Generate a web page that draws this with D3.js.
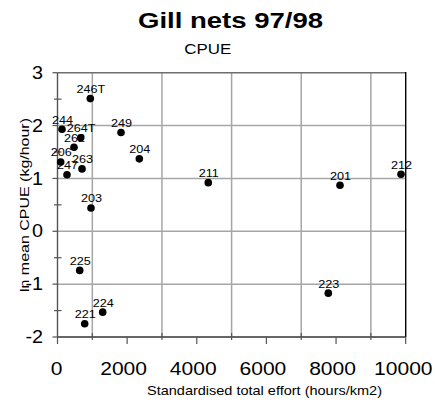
<!DOCTYPE html>
<html><head><meta charset="utf-8">
<script src="https://cdn.jsdelivr.net/npm/d3@7"></script>
<style>
html,body{margin:0;padding:0;background:#fff;}
text{font-family:"Liberation Sans",Arial,sans-serif;fill:#000;}
</style></head>
<body>
<script>
// ---- data ----
const labels = ["246T","244","264T","262","249","204","206","263","247","211","203","225","224","221","212","201","223"];
const effort = [942,129,666,474,1824,2350,92,704,273,4330,962,638,1298,781,9865,8113,7777];
const cpue   = [2.51,1.93,1.77,1.59,1.87,1.37,1.31,1.18,1.07,0.92,0.44,-0.74,-1.53,-1.75,1.08,0.87,-1.17];
const xTickLabels = [0,2000,4000,6000,8000,10000];
const yTickLabels = [3,2,1,0,-1,-2];
const xGridValues = [1000,3000,5000,7000,9000];
const yGridValues = [3,2,1,0,-1];
const titleText = "Gill nets 97/98";
const subtitleText = "CPUE";
const xTitle = "Standardised total effort (hours/km2)";
const yTitle = "ln mean CPUE (kg/hour)";

const W = 435, H = 403;
const m = {left:57.5, right:405.7, top:72.7, bottom:337};
const svg = d3.select("body").append("svg").attr("width",W).attr("height",H);

const x = d3.scaleLinear().domain([0,10000]).range([m.left,m.right]);
const y = d3.scaleLinear().domain([-2,3]).range([m.bottom,m.top]);

// gridlines
svg.append("g").selectAll("line").data(xGridValues).join("line")
  .attr("x1",d=>x(d)).attr("x2",d=>x(d)).attr("y1",m.top).attr("y2",m.bottom)
  .attr("stroke","#a6a6a6").attr("stroke-width",1.5);
svg.append("g").selectAll("line").data(yGridValues.filter(d=>d<3)).join("line")
  .attr("x1",m.left).attr("x2",m.right).attr("y1",d=>y(d)).attr("y2",d=>y(d))
  .attr("stroke","#a6a6a6").attr("stroke-width",1.5);
// top border
svg.append("line").attr("x1",m.left).attr("x2",m.right).attr("y1",y(3)).attr("y2",y(3))
  .attr("stroke","#6e6e6e").attr("stroke-width",1.4);
// right border
svg.append("line").attr("x1",m.right).attr("x2",m.right).attr("y1",m.top-0.7).attr("y2",m.bottom)
  .attr("stroke","#000").attr("stroke-width",1.4);

// x axis
const xAxisG = svg.append("g").attr("transform",`translate(0,${m.bottom})`);
xAxisG.append("line").attr("x1",m.left).attr("x2",m.right).attr("stroke","#333").attr("stroke-width",1.4);
const xTicksAll = d3.range(0,10001,1000);
xAxisG.selectAll("line.t").data(xTicksAll).join("line").attr("class","t")
  .attr("x1",d=>x(d)).attr("x2",d=>x(d))
  .attr("y1",d=>d%2000===0?0:-4).attr("y2",d=>d%2000===0?7:3)
  .attr("stroke","#555").attr("stroke-width",1.2);
const xl = xAxisG.selectAll("text").data(xTickLabels).join("text")
  .attr("y",38).attr("font-size",18).attr("text-anchor","middle")
  .text(d=>d);
xl.each(function(d){
  const w = this.getComputedTextLength();
  const cx = x(d) - 0.075*w*1.17 + (w>45?2:0);
  d3.select(this).attr("transform",`translate(${cx},0) scale(1.17,1)`);
});

// y axis
const yAxisG = svg.append("g").attr("transform",`translate(${m.left},0)`);
yAxisG.append("line").attr("y1",m.top).attr("y2",m.bottom).attr("stroke","#555").attr("stroke-width",1.4);
const yTicksAll = d3.range(-2,3.01,0.5);
yAxisG.selectAll("line.t").data(yTicksAll).join("line").attr("class","t")
  .attr("y1",d=>y(d)).attr("y2",d=>y(d))
  .attr("x1",d=>Number.isInteger(d)?-5:-3.5).attr("x2",d=>Number.isInteger(d)?0:4)
  .attr("stroke","#555").attr("stroke-width",1.2);
yAxisG.selectAll("text").data(yTickLabels).join("text")
  .attr("font-size",18).attr("text-anchor","end")
  .attr("transform",d=>`translate(-14.5,${y(d)+6.2}) scale(1.1,1)`)
  .text(d=>d<0?"-"+Math.abs(d):d);

// points
svg.append("g").selectAll("circle").data(effort).join("circle")
  .attr("cx",d=>x(d)).attr("cy",(d,i)=>y(cpue[i])).attr("r",3.8).attr("fill","#000");
svg.append("g").selectAll("text").data(labels).join("text")
  .attr("font-size",11).attr("text-anchor","middle")
  .attr("transform",(d,i)=>`translate(${x(effort[i])+0.5},${y(cpue[i])-5.6}) scale(1.15,1)`)
  .text(d=>d);

// titles
svg.append("text").attr("x",230.5).attr("y",28).attr("font-size",22).attr("font-weight","bold")
  .attr("text-anchor","middle").attr("textLength",185).attr("lengthAdjust","spacingAndGlyphs").text(titleText);
svg.append("text").attr("x",207.7).attr("y",53.5).attr("font-size",14)
  .attr("text-anchor","middle").attr("textLength",47).attr("lengthAdjust","spacingAndGlyphs").text(subtitleText);
svg.append("text").attr("x",264.5).attr("y",395).attr("font-size",13)
  .attr("text-anchor","middle").attr("textLength",235).attr("lengthAdjust","spacingAndGlyphs").text(xTitle);
svg.append("text").attr("font-size",13).attr("text-anchor","middle")
  .attr("transform","translate(28.5,205) rotate(-90)")
  .attr("textLength",174).attr("lengthAdjust","spacingAndGlyphs").text(yTitle);
</script>
</body></html>
